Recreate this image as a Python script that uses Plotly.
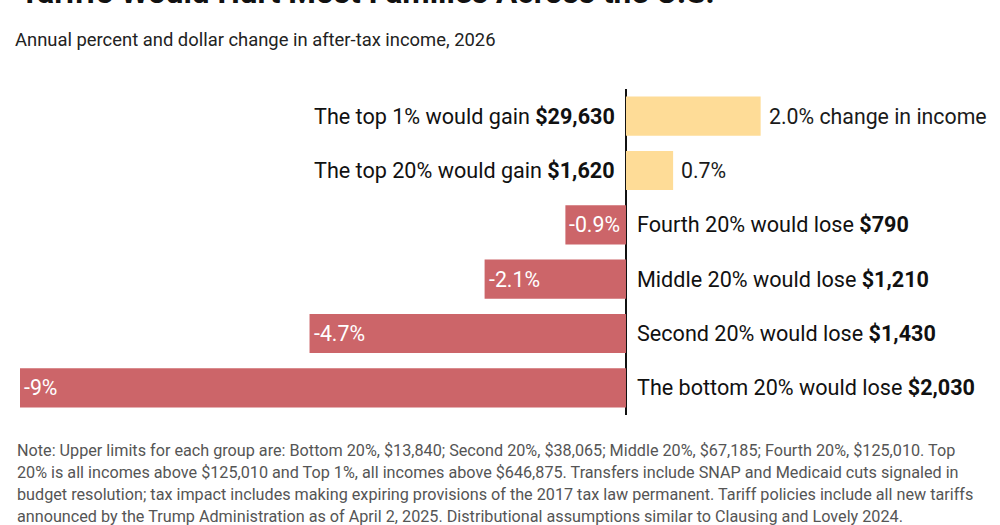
import plotly.graph_objects as go

groups = ["Top 1%", "Top 20%", "Fourth 20%", "Middle 20%", "Second 20%", "Bottom 20%"]
pct_change = [2.0, 0.7, -0.9, -2.1, -4.7, -9.0]
pct_labels = ["2.0% change in income", "0.7%", "-0.9%", "-2.1%", "-4.7%", "-9%"]
group_labels = [
    "The top 1% would gain <b>$29,630</b>",
    "The top 20% would gain <b>$1,620</b>",
    "Fourth 20% would lose <b>$790</b>",
    "Middle 20% would lose <b>$1,210</b>",
    "Second 20% would lose <b>$1,430</b>",
    "The bottom 20% would lose <b>$2,030</b>",
]

title = "Tariffs Would Hurt Most Families Across the U.S."
subtitle = "Annual percent and dollar change in after-tax income, 2026"
note_lines = [
    "Note: Upper limits for each group are: Bottom 20%, $13,840; Second 20%, $38,065; Middle 20%, $67,185; Fourth 20%, $125,010. Top",
    "20% is all incomes above $125,010 and Top 1%, all incomes above $646,875. Transfers include SNAP and Medicaid cuts signaled in",
    "budget resolution; tax impact includes making expiring provisions of the 2017 tax law permanent. Tariff policies include all new tariffs",
    "announced by the Trump Administration as of April 2, 2025. Distributional assumptions similar to Clausing and Lovely 2024.",
]

YELLOW = "#fedc97"
RED = "#cc6569"
FONT = "Roboto, Liberation Sans, sans-serif"

W, H = 1000, 525
M_L, M_R, M_T, M_B = 20, 0, 89, 110
plot_h = H - M_T - M_B


def py(pixel_y):
    return (H - M_B - pixel_y) / plot_h


def pxx(pixel_x):
    return (pixel_x - M_L) / (W - M_L - M_R)


def f(size, color):
    return dict(size=size, color=color, family=FONT)


colors = [YELLOW if v > 0 else RED for v in pct_change]

fig = go.Figure(
    go.Bar(
        x=pct_change,
        y=groups,
        orientation="h",
        marker=dict(color=colors, line=dict(width=0)),
        width=0.72,
        hoverinfo="skip",
    )
)

annotations = []
for g, v, pl, gl in zip(groups, pct_change, pct_labels, group_labels):
    if v > 0:
        annotations.append(dict(x=v, y=g, xref="x", yref="y", text=pl, showarrow=False,
                                xanchor="left", xshift=6, font=f(21.3, "#1a1a1a")))
        annotations.append(dict(x=0, y=g, xref="x", yref="y", text=gl, showarrow=False,
                                xanchor="right", xshift=-9, font=f(21.6, "#111111")))
    else:
        annotations.append(dict(x=v, y=g, xref="x", yref="y", text=pl, showarrow=False,
                                xanchor="left", xshift=2, font=f(21.3, "#ffffff")))
        annotations.append(dict(x=0, y=g, xref="x", yref="y", text=gl, showarrow=False,
                                xanchor="left", xshift=9, font=f(21.6, "#111111")))

annotations.append(dict(x=pxx(18), y=py(13), xref="paper", yref="paper", text="<b>" + title + "</b>",
                        showarrow=False, xanchor="left", yanchor="bottom",
                        font=dict(size=31.6, color="#111111", family="Roboto, sans-serif")))
annotations.append(dict(x=pxx(13), y=py(40), xref="paper", yref="paper", text=subtitle,
                        showarrow=False, xanchor="left", yanchor="middle",
                        font=f(18.4, "#222222")))
for i, line in enumerate(note_lines):
    annotations.append(dict(x=pxx(15), y=py(450 + 22 * i), xref="paper", yref="paper", text=line,
                            showarrow=False, xanchor="left", yanchor="middle",
                            font=f(16.2, "#555555")))

fig.update_layout(
    width=W, height=H,
    margin=dict(l=M_L, r=M_R, t=M_T, b=M_B, pad=0),
    paper_bgcolor="white", plot_bgcolor="white",
    showlegend=False,
    bargap=0.28,
    xaxis=dict(range=[-9, (1000 - 626) / 67.33], showgrid=False, showticklabels=False,
               zeroline=True, zerolinecolor="#111111", zerolinewidth=2, fixedrange=True),
    yaxis=dict(autorange="reversed", showgrid=False, showticklabels=False, zeroline=False,
               fixedrange=True, categoryorder="array", categoryarray=groups),
    annotations=annotations,
)

fig.write_html("out.html", config={"displayModeBar": False},
               post_script="document.body.style.margin='0';document.body.style.overflow='hidden';")
